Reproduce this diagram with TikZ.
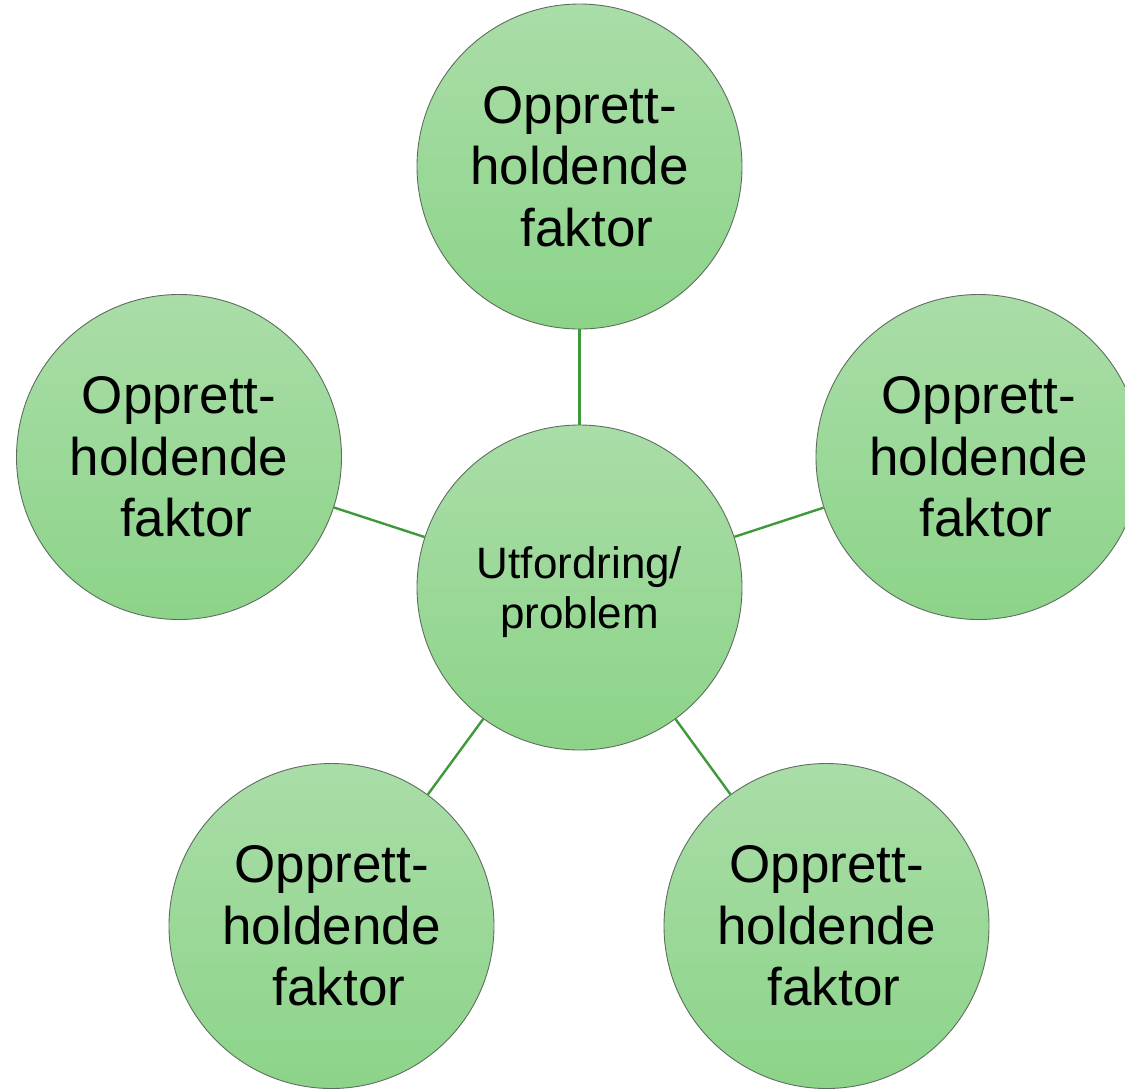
\documentclass[tikz,border=0pt]{standalone}
\usepackage{fontspec}
\setmainfont{Liberation Sans}
\definecolor{topgreen}{HTML}{AADDA8}
\definecolor{botgreen}{HTML}{8CD489}
\definecolor{linkgreen}{HTML}{3C9A3C}
\definecolor{rimgray}{HTML}{5E6E5E}
\begin{document}
\begin{tikzpicture}[x=1pt,y=-1pt,
  bubble/.style={circle, minimum size=325pt, inner sep=0pt, draw=rimgray, line width=0.9pt,
    top color=topgreen, bottom color=botgreen, align=center, text=black},
  outer/.style={bubble, font=\fontsize{53}{61.5}\selectfont},
  inner/.style={bubble, font=\fontsize{44}{50}\selectfont},
  link/.style={draw=linkgreen, line width=2.4pt}]
\useasboundingbox (0,0) rectangle (1125,1088);
\node[inner] (c) at (579.5,587.5) {\rule{0pt}{42pt}Utfordring/\\problem};
\node[outer] (t) at (579.5,166.5) {Opprett-\\holdende\\\hspace*{0.278em}faktor};
\node[outer] (l) at (179,457) {Opprett-\\holdende\\\hspace*{0.278em}faktor};
\node[outer] (r) at (978.5,457) {Opprett-\\holdende\\\hspace*{0.278em}faktor};
\node[outer] (bl) at (331.5,926) {Opprett-\\holdende\\\hspace*{0.278em}faktor};
\node[outer] (br) at (826.5,926) {Opprett-\\holdende\\\hspace*{0.278em}faktor};
\draw[link] (c) -- (t);
\draw[link] (c) -- (l);
\draw[link] (c) -- (r);
\draw[link] (c) -- (bl);
\draw[link] (c) -- (br);
\end{tikzpicture}
\end{document}
